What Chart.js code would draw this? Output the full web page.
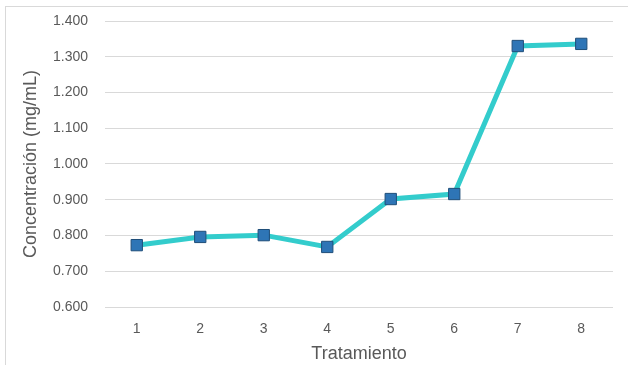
<!DOCTYPE html>
<html>
<head>
<meta charset="utf-8">
<script src="https://cdn.jsdelivr.net/npm/chart.js@4"></script>
<style>
  html, body { margin: 0; padding: 0; background: #fff; }
  #wrap { width: 628px; height: 365px; position: relative; }
</style>
</head>
<body>
<div id="wrap"><canvas id="conc_chart" width="628" height="365"></canvas></div>
<script>
const tratamientos = ['1', '2', '3', '4', '5', '6', '7', '8']
const concentracion = [0.773, 0.796, 0.801, 0.768, 0.902, 0.916, 1.330, 1.336]
const y_min = 0.6
const y_max = 1.4
const y_step = 0.1

const FONT = "'Liberation Sans Narrow', 'Arial Narrow', 'Liberation Sans', sans-serif"
const TEXT_COLOR = '#595959'

// marco gris claro alrededor del gráfico
const frame_plugin = {
  id: 'frame',
  beforeDraw(chart) {
    const ctx = chart.ctx
    ctx.save()
    ctx.strokeStyle = '#d9d9d9'
    ctx.lineWidth = 1
    ctx.strokeRect(5.5, 6.5, 700, 400)
    ctx.restore()
  },
}

let config = {
  type: 'line',
  data: {
    labels: tratamientos,
    datasets: [
      {
        label: 'Concentración',
        data: concentracion,
        borderColor: '#33cccc',
        borderWidth: 5,
        tension: 0,
        pointStyle: 'rect',
        pointRadius: 8,
        pointHoverRadius: 8,
        pointBackgroundColor: '#2e75b6',
        pointBorderColor: '#1f4e79',
        pointBorderWidth: 1,
      },
    ],
  },
  options: {
    responsive: false,
    animation: false,
    layout: { padding: { top: 21, right: 15, left: 0, bottom: 0 } },
    plugins: {
      legend: { display: false },
      tooltip: { enabled: false },
    },
    scales: {
      x: {
        offset: true,
        grid: { display: false, drawTicks: false },
        border: { display: false },
        ticks: { color: TEXT_COLOR, font: { family: FONT, size: 14 }, padding: 14 },
        title: {
          display: true,
          text: 'Tratamiento',
          color: TEXT_COLOR,
          font: { family: FONT, size: 18 },
          padding: { top: 2, bottom: 0 },
        },
        afterFit(scale) { scale.height = 58 },
      },
      y: {
        min: y_min,
        max: y_max,
        grid: { color: '#d9d9d9', lineWidth: 1, drawTicks: false },
        border: { display: false },
        ticks: {
          stepSize: y_step,
          color: TEXT_COLOR,
          font: { family: FONT, size: 14 },
          padding: 17,
          callback: (v) => Number(v).toFixed(3),
        },
        title: {
          display: true,
          text: 'Concentración (mg/mL)',
          color: TEXT_COLOR,
          font: { family: FONT, size: 18 },
          padding: { top: 20, bottom: 0 },
        },
        afterFit(scale) {
          scale.width = 105
          // el padding de los ticks no debe empujar el área del gráfico
          scale.paddingTop = 0
          scale.paddingBottom = 0
        },
      },
    },
  },
  plugins: [frame_plugin],
}

new Chart(document.getElementById('conc_chart'), config)
</script>
</body>
</html>
